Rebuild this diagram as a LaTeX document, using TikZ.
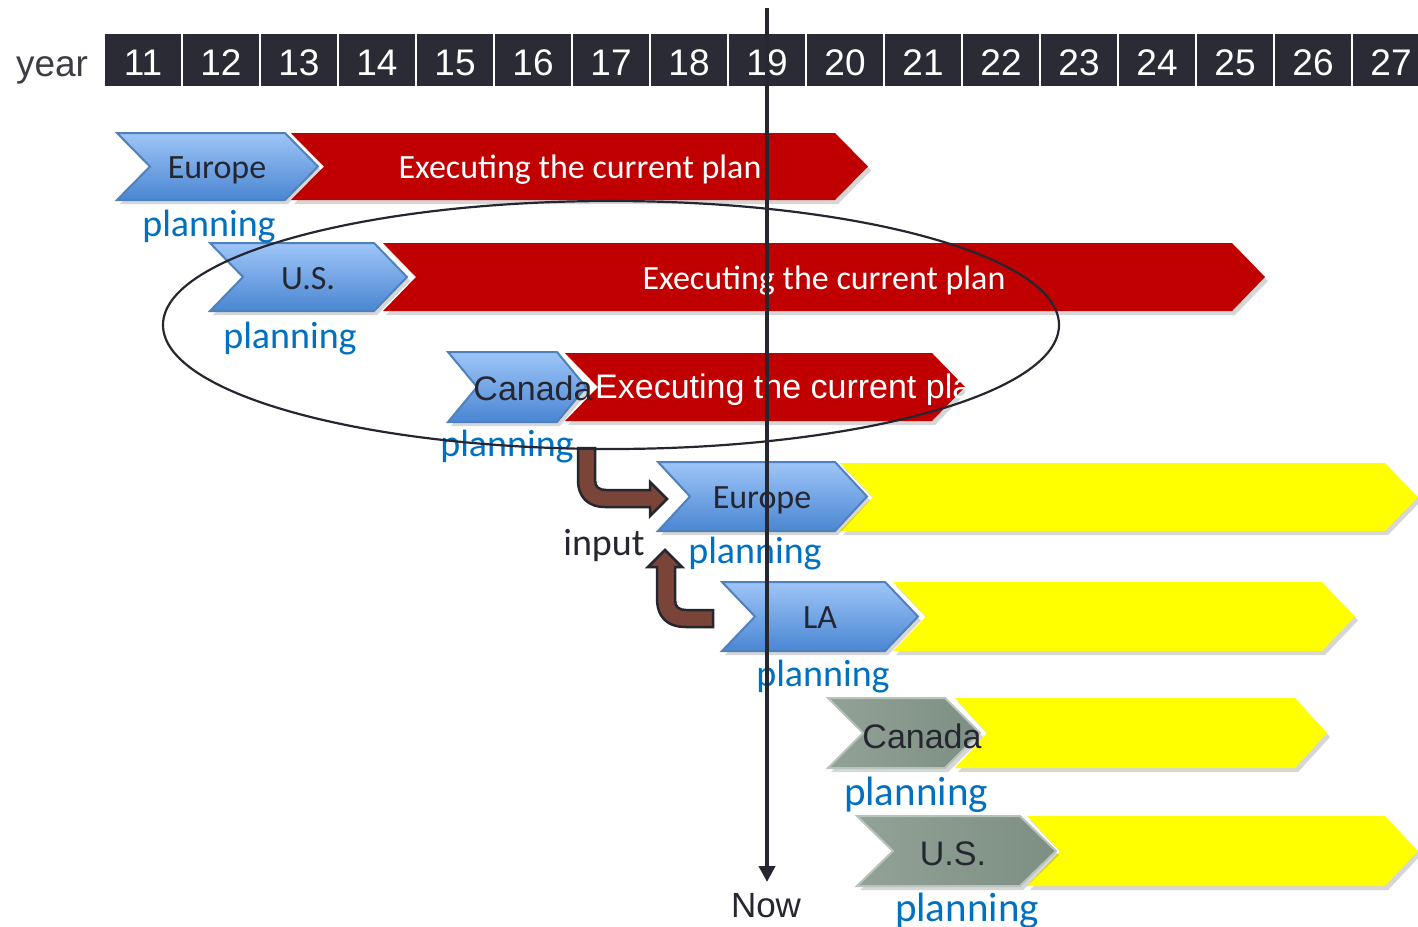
\documentclass[tikz,border=0pt]{standalone}
\usepackage{fontspec}
\setmainfont{Carlito}
\newfontfamily\arialf{Liberation Sans}
\usetikzlibrary{arrows.meta,shapes.geometric}

\definecolor{hdr}{HTML}{2B2B35}
\definecolor{ink}{HTML}{262630}
\definecolor{planblue}{HTML}{0070C0}
\definecolor{redfill}{HTML}{C00000}
\definecolor{yelfill}{HTML}{FFFF00}
\definecolor{bluetop}{HTML}{9EC5F8}
\definecolor{bluebot}{HTML}{4A86D2}
\definecolor{blueedge}{HTML}{4F81BD}
\definecolor{graya}{HTML}{92A297}
\definecolor{grayb}{HTML}{7D8E83}
\definecolor{grayedge}{HTML}{B8C3BB}
\definecolor{brownarr}{HTML}{7B4438}

% #1 style, #2 xl, #3 xr, #4 ytop, #5 ybot, #6 depth, #7 name
\newcommand{\chevshape}[7]{%
  \fill[black,opacity=0.16] ({#2+3},{#4+4}) -- ({#3+3},{#4+4}) -- ({#3+#6+3},{(#4+#5)/2+4}) -- ({#3+3},{#5+4}) -- ({#2+3},{#5+4}) -- ({#2+#6+3},{(#4+#5)/2+4}) -- cycle;
  \path[#1] (#2,#4) -- (#3,#4) -- ({#3+#6},{(#4+#5)/2}) -- (#3,#5) -- (#2,#5) -- ({#2+#6},{(#4+#5)/2}) -- cycle;
  \coordinate (#7) at ({(#2+#3)/2},{(#4+#5)/2});
}

\tikzset{
  bluechev/.style={top color=bluetop,bottom color=bluebot,draw=blueedge,line width=2},
  graychev/.style={left color=graya,right color=grayb,draw=grayedge,line width=2},
  redbar/.style={fill=redfill},
  yelbar/.style={fill=yelfill},
  hdrcell/.style={fill=hdr,minimum width=76,minimum height=52,inner sep=0},
  hdrnum/.style={text=white,inner sep=0,anchor=base,font=\arialf\fontsize{37}{40}\selectfont},
  lbl/.style={text=ink,inner sep=0,anchor=base,font=\fontsize{34}{40}\selectfont},
  albl/.style={text=ink,inner sep=0,anchor=base,font=\arialf\fontsize{34}{40}\selectfont},
  plan/.style={text=planblue,inner sep=0,anchor=base,font=\fontsize{38}{44}\selectfont},
  bigplan/.style={text=planblue,inner sep=0,anchor=base,font=\fontsize{41}{46}\selectfont},
  exec/.style={text=white,inner sep=0,anchor=base,font=\fontsize{34}{40}\selectfont},
  brownarrow/.style={fill=brownarr,draw=ink,line width=2.5,line join=miter},
}

\begin{document}
\begin{tikzpicture}[x=1pt,y=-1pt]
\useasboundingbox (0,0) rectangle (1418,926);
\clip (0,0) rectangle (1418,926);

% header
\node[text=ink!90,inner sep=0,anchor=base,font=\arialf\fontsize{37}{40}\selectfont] (year) at (52,76) {year};
\foreach \i [count=\k from 0] in {11,...,27} {
  \node[hdrcell] (y\i) at ({105+78*\k+38},60) {};
  \node[hdrnum] (n\i) at ({105+78*\k+38},75) {\i};
}

% row 1
\chevshape{redbar}{291}{835}{133}{200}{33}{r1}
\chevshape{bluechev}{117}{285}{133}{200}{33}{b1}
% row 2
\chevshape{redbar}{383}{1232}{243}{311}{33}{r2}
\chevshape{bluechev}{210}{374}{243}{311}{33}{b2}
% row 3
\chevshape{redbar}{565}{932}{353}{421}{33}{r3}
\chevshape{bluechev}{448}{557}{352}{422}{29}{b3}
% row 4
\chevshape{yelbar}{840}{1385}{463}{531}{33}{y4}
\chevshape{bluechev}{658}{835}{462}{531}{32}{b4}
% row 5
\chevshape{yelbar}{893}{1322}{582}{651}{33}{y5}
\chevshape{bluechev}{722}{885}{582}{651}{33}{b5}
% row 6
\chevshape{yelbar}{955}{1295}{698}{768}{32}{y6}
\chevshape{graychev}{828}{945}{698}{768}{35}{g6}
% row 7
\chevshape{yelbar}{1027}{1385}{816}{886}{33}{y7}
\chevshape{graychev}{857}{1020}{816}{886}{36}{g7}

% texts
\node[lbl] (t1) at (217,178) {Europe};
\node[exec] (e1) at (580,178) {Executing the current plan};
\node[plan] (p1) at (209,236) {planning};

\node[lbl] (t2) at (308,289) {U.S.};
\node[exec] (e2) at (824,289) {Executing the current plan};
\node[plan] (p2) at (290,348) {planning};

\node[exec,anchor=base west,font=\arialf\fontsize{34}{40}\selectfont] (e3) at (595,398) {Executing the current plan};
\node[albl] (t3) at (533,400) {Canada};
\node[plan] (p3) at (507,456) {planning};

\node[lbl] (t4) at (762,508) {Europe};
\node[plan] (p4) at (755,563) {planning};
\node[text=ink,inner sep=0,anchor=base,font=\fontsize{38}{44}\selectfont] (inp) at (604,555) {input};

\node[lbl] (t5) at (820,628) {LA};
\node[plan] (p5) at (823,686) {planning};

\node[albl] (t6) at (922,748) {Canada};
\node[bigplan] (p6) at (916,805) {planning};

\node[albl] (t7) at (953,865) {U.S.};
\node[bigplan] (p7) at (967,921) {planning};

% brown input arrows
\path[brownarrow] (578,448) -- (578,480) .. controls (578,497) and (588,507) .. (605,507)
  -- (650,507) -- (650,516) -- (667,499) -- (650,482) -- (650,490) -- (606,490)
  .. controls (599,490) and (595,487) .. (595,480) -- (595,448) -- cycle;
\path[brownarrow] (713,610) -- (686,610) .. controls (679,610) and (675,607) .. (675,600)
  -- (675,567) -- (682,567) -- (665,550) -- (648,567) -- (657,567) -- (657,598)
  .. controls (657,617) and (667,627) .. (686,627) -- (713,627) -- cycle;

% ellipse grouping current plans
\node[ellipse,draw=ink,line width=2.2,minimum width=896,minimum height=248,inner sep=0] (grp) at (611,325) {};

% now line
\coordinate (nowtop) at (767,8);
\coordinate (nowbot) at (767,882);
\draw[ink,line width=4,-{Triangle[width=16pt,length=16pt]}] (nowtop) -- (nowbot);
\node[text=ink,inner sep=0,anchor=base,font=\arialf\fontsize{35}{40}\selectfont] (now) at (766,917) {Now};
\end{tikzpicture}
\end{document}
